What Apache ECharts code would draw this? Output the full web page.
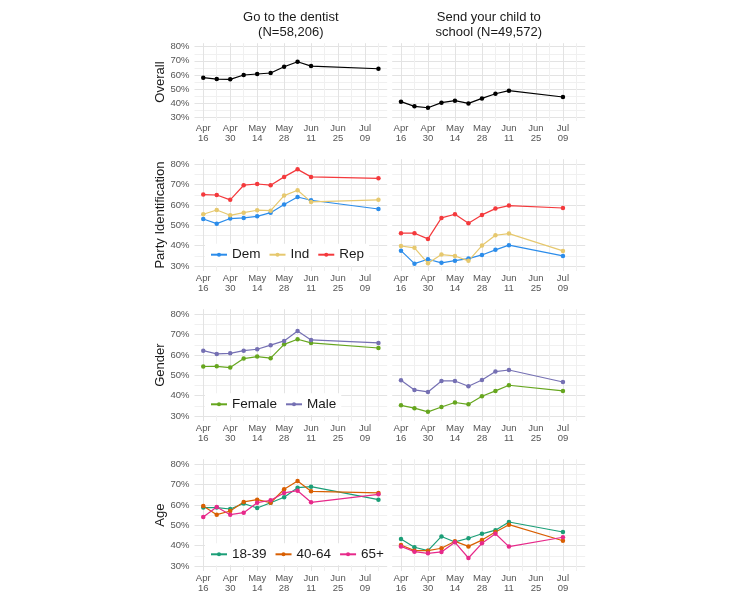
<!DOCTYPE html>
<html>
<head>
<meta charset="utf-8">
<script src="https://cdn.jsdelivr.net/npm/echarts@6/dist/echarts.min.js"></script>
<style>html,body{margin:0;padding:0;background:#fff}#c{width:733px;height:600px}</style>
</head>
<body>
<div id="c"></div>
<script>
// ---------- data ----------
var datesDentist = ['2020-04-16','2020-04-23','2020-04-30','2020-05-07','2020-05-14','2020-05-21','2020-05-28','2020-06-04','2020-06-11','2020-07-16'];
var datesSchool  = ['2020-04-16','2020-04-23','2020-04-30','2020-05-07','2020-05-14','2020-05-21','2020-05-28','2020-06-04','2020-06-11','2020-07-09'];

var overallDentist = [58.1, 57.1, 56.9, 60.0, 60.7, 61.4, 65.8, 69.4, 66.3, 64.4];
var overallSchool  = [41.1, 37.8, 36.8, 40.4, 41.8, 39.9, 43.4, 46.7, 48.9, 44.4];

var demDentist = [53.1, 50.8, 53.3, 53.6, 54.4, 56.2, 60.2, 63.9, 62.3, 58.0];
var indDentist = [55.4, 57.5, 54.9, 56.2, 57.4, 57.2, 64.6, 67.2, 61.5, 62.5];
var repDentist = [65.1, 64.9, 62.5, 69.7, 70.3, 69.7, 73.8, 77.5, 73.8, 73.1];
var demSchool  = [37.5, 31.1, 33.3, 31.5, 32.6, 33.6, 35.4, 37.9, 40.2, 34.9];
var indSchool  = [39.8, 38.9, 31.3, 35.6, 34.9, 32.5, 40.0, 45.1, 45.9, 37.4];
var repSchool  = [46.1, 46.1, 43.3, 53.6, 55.4, 51.0, 55.1, 58.2, 59.7, 58.5];

var femaleDentist = [54.3, 54.4, 53.8, 58.2, 59.2, 58.4, 65.2, 67.7, 65.9, 63.4];
var maleDentist   = [62.1, 60.5, 60.8, 62.1, 62.8, 64.8, 66.9, 71.8, 67.4, 65.9];
var femaleSchool  = [35.2, 33.8, 32.0, 34.4, 36.6, 35.7, 39.7, 42.3, 45.1, 42.3];
var maleSchool    = [47.5, 42.8, 41.8, 47.2, 47.2, 44.6, 47.7, 51.8, 52.6, 46.7];

var age1839Dentist = [58.7, 58.7, 58.0, 60.7, 58.5, 61.1, 63.8, 68.5, 69.0, 62.6];
var age4064Dentist = [59.5, 55.2, 57.0, 61.5, 62.6, 61.1, 67.7, 71.8, 66.7, 65.9];
var age65Dentist   = [54.1, 59.0, 55.2, 56.2, 61.1, 62.3, 65.9, 67.0, 61.3, 65.2];
var age1839School  = [43.2, 39.2, 37.5, 44.5, 41.8, 43.6, 45.8, 47.6, 51.6, 46.7];
var age4064School  = [40.3, 37.5, 37.5, 38.7, 42.1, 39.6, 42.7, 46.7, 50.3, 42.4];
var age65School    = [39.6, 37.0, 36.2, 36.9, 41.6, 33.9, 41.1, 45.8, 39.5, 44.1];

var xTickDates  = ['2020-04-16','2020-04-30','2020-05-14','2020-05-28','2020-06-11','2020-06-25','2020-07-09'];
var xTickLabels = ['Apr\n16','Apr\n30','May\n14','May\n28','Jun\n11','Jun\n25','Jul\n09'];
var yTickValues = [30, 40, 50, 60, 70, 80];
var yTickLabels = ['30%','40%','50%','60%','70%','80%'];

var columnTitles = ['Go to the dentist\n(N=58,206)', 'Send your child to\nschool (N=49,572)'];
var rowTitles = ['Overall', 'Party Identification', 'Gender', 'Age'];

// ---------- helpers ----------
var origin = Date.parse('2020-04-16T00:00:00Z');
function dayOf(d){ return Math.round((Date.parse(d + 'T00:00:00Z') - origin) / 86400000); }
function pairs(dates, vals){ return vals.map(function(v, i){ return [dayOf(dates[i]), v]; }); }

var xTickDays = xTickDates.map(dayOf);
var xGridDays = [];
for (var d = 0; d <= 91; d += 7) xGridDays.push(d);
var yGridValues = [30,35,40,45,50,55,60,65,70,75,80];

var colLeft = [194.5, 392.2];
var colWidth = [192.7, 193];
var rowTop = [43.2, 159.2, 309.2, 459.2];
var rowHeight = [77.7, 111.8, 111.8, 111.8];

var rows = [
  [{name:'Overall', color:'#000000', d:overallDentist, s:overallSchool}],
  [{name:'Dem', color:'#2B8CEA', d:demDentist, s:demSchool},
   {name:'Ind', color:'#E6C86E', d:indDentist, s:indSchool},
   {name:'Rep', color:'#F4393C', d:repDentist, s:repSchool}],
  [{name:'Female', color:'#66A61E', d:femaleDentist, s:femaleSchool},
   {name:'Male', color:'#7570B3', d:maleDentist, s:maleSchool}],
  [{name:'18-39', color:'#1B9E77', d:age1839Dentist, s:age1839School},
   {name:'40-64', color:'#D95F02', d:age4064Dentist, s:age4064School},
   {name:'65+', color:'#E7298A', d:age65Dentist, s:age65School}]
];
var legendCenters = [null, 255.7, 405.3, 555.3];

var grids = [], xAxes = [], yAxes = [], series = [], legends = [], titles = [];
var gi = 0;
for (var r = 0; r < 4; r++) {
  for (var c = 0; c < 2; c++) {
    grids.push({left: colLeft[c], top: rowTop[r], width: colWidth[c], height: rowHeight[r], containLabel: false});
    xAxes.push({
      type: 'value', gridIndex: gi, min: -4.55, max: 95.55,
      axisLine: {show: false}, axisTick: {show: false, customValues: xGridDays},
      axisLabel: {customValues: xTickDays, margin: 2, color: '#555', fontSize: 9.5, lineHeight: 10.5,
        fontFamily: 'Liberation Sans, Arial, sans-serif',
        formatter: function(v){ var i = xTickDays.indexOf(Math.round(v)); return i >= 0 ? xTickLabels[i] : ''; }},
      splitLine: {show: true, lineStyle: {color: ['#e3e3e3', '#f0f0f0'], width: 1}}
    });
    yAxes.push({
      type: 'value', gridIndex: gi, min: 27.5, max: 82.5,
      axisLine: {show: false}, axisTick: {show: false, customValues: yGridValues},
      axisLabel: {show: c === 0, customValues: yTickValues, margin: 5, color: '#555', fontSize: 9.5,
        fontFamily: 'Liberation Sans, Arial, sans-serif',
        formatter: function(v){ var i = yTickValues.indexOf(Math.round(v)); return i >= 0 ? yTickLabels[i] : ''; }},
      splitLine: {show: true, lineStyle: {color: ['#e3e3e3', '#f0f0f0'], width: 1}},
      name: c === 0 ? rowTitles[r] : '', nameLocation: 'middle', nameRotate: 90, nameGap: 28,
      nameTextStyle: {fontSize: 13, color: '#1a1a1a', fontFamily: 'Liberation Sans, Arial, sans-serif'}
    });
    rows[r].forEach(function(g){
      series.push({
        type: 'line', name: g.name, xAxisIndex: gi, yAxisIndex: gi,
        data: pairs(c === 0 ? datesDentist : datesSchool, c === 0 ? g.d : g.s),
        symbol: 'circle', symbolSize: 4.5, showSymbol: true,
        lineStyle: {color: g.color, width: 1.2}, itemStyle: {color: g.color},
        animation: false, silent: true
      });
    });
    gi++;
  }
  if (r > 0) {
    legends.push({
      data: rows[r].map(function(g){ return g.name; }),
      left: 205, top: legendCenters[r] - 12, orient: 'horizontal',
      itemWidth: 16, itemHeight: 5, itemGap: 8,
      padding: [4, 5], backgroundColor: '#ffffff',
      selectedMode: false,
      textStyle: {fontSize: 13.5, color: '#1a1a1a', fontFamily: 'Liberation Sans, Arial, sans-serif'}
    });
  }
}
titles.push({text: columnTitles[0], left: 290.8, top: 9.5, textAlign: 'center', padding: 0,
  textStyle: {fontSize: 13, fontWeight: 'normal', color: '#1a1a1a', lineHeight: 15, fontFamily: 'Liberation Sans, Arial, sans-serif'}});
titles.push({text: columnTitles[1], left: 488.8, top: 9.5, textAlign: 'center', padding: 0,
  textStyle: {fontSize: 13, fontWeight: 'normal', color: '#1a1a1a', lineHeight: 15, fontFamily: 'Liberation Sans, Arial, sans-serif'}});

var chart = echarts.init(document.getElementById('c'), null, {renderer: 'canvas'});
chart.setOption({
  backgroundColor: '#ffffff',
  animation: false,
  title: titles,
  legend: legends,
  grid: grids,
  xAxis: xAxes,
  yAxis: yAxes,
  series: series
});
</script>
</body>
</html>
